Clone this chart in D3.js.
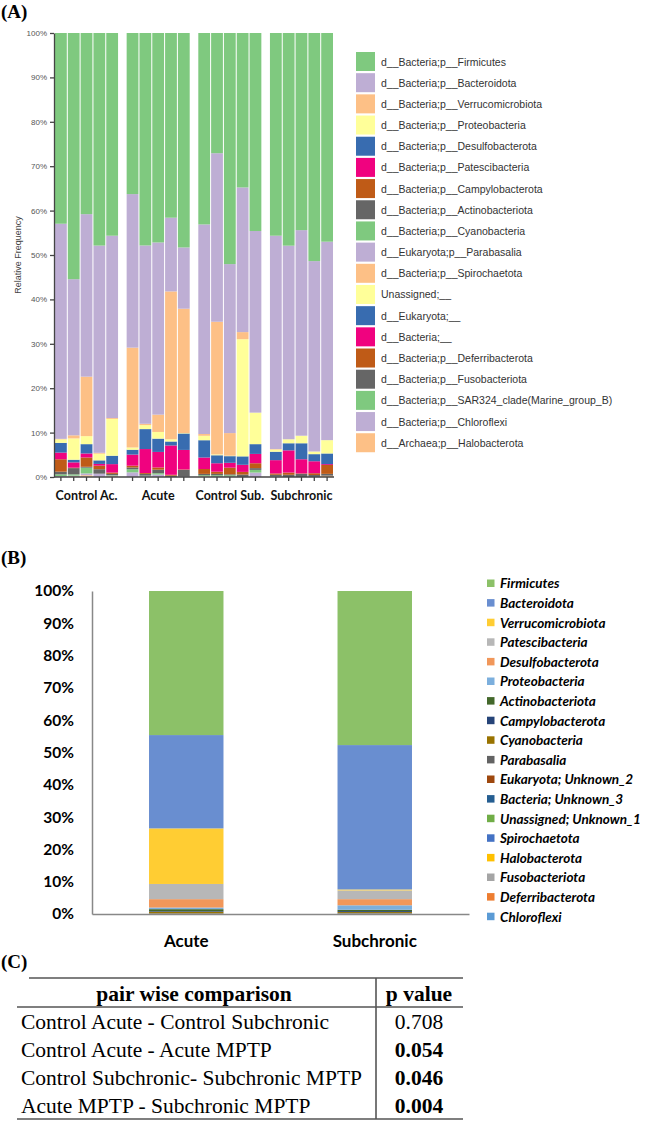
<!DOCTYPE html>
<meta charset="utf-8">

<body>
  <style>
    body {
      margin: 0;
      background: #fff;
    }

    svg {
      display: block;
    }

    .axisA text {
      font-family: "Liberation Sans", Arial, sans-serif;
      font-size: 8px;
      fill: #555;
    }

    .axisA path,
    .axisA line {
      stroke: #444;
      stroke-width: 1.3;
    }

    .axisB text {
      font-family: Lato, sans-serif;
      font-weight: bold;
      fill: #000;
    }

    .axisB path {
      stroke: #888;
      stroke-width: 1.5;
    }
  </style>
  <div id="box">
  </div>
  <script src="https://d3js.org/d3.v7.min.js"></script>
  <script>
    // ---------- panel A : relative frequency per sample ----------
    var groupsA = ["Control Ac.", "Acute", "Control Sub.", "Subchronic"];
    var samplesA = ["CA1", "CA2", "CA3", "CA4", "CA5",
      "A1", "A2", "A3", "A4", "A5",
      "CS1", "CS2", "CS3", "CS4", "CS5",
      "S1", "S2", "S3", "S4", "S5"
    ];
    var taxaA = ["d__Bacteria;p__Firmicutes", "d__Bacteria;p__Bacteroidota", "d__Bacteria;p__Verrucomicrobiota",
      "d__Bacteria;p__Proteobacteria", "d__Bacteria;p__Desulfobacterota", "d__Bacteria;p__Patescibacteria",
      "d__Bacteria;p__Campylobacterota", "d__Bacteria;p__Actinobacteriota", "d__Bacteria;p__Cyanobacteria",
      "d__Eukaryota;p__Parabasalia", "d__Bacteria;p__Spirochaetota", "Unassigned;__", "d__Eukaryota;__",
      "d__Bacteria;__", "d__Bacteria;p__Deferribacterota", "d__Bacteria;p__Fusobacteriota",
      "d__Bacteria;p__SAR324_clade(Marine_group_B)", "d__Bacteria;p__Chloroflexi", "d__Archaea;p__Halobacterota"
    ];

    var firmicutes = [43.0, 55.5, 40.8, 47.9, 45.7, 36.3, 47.9, 47.2, 41.6, 48.3, 43.2, 27.1, 52.1, 34.8, 44.6, 45.7, 47.9, 44.4, 51.4, 47.0];
    var bacteroidota = [48.5, 35.2, 36.6, 46.7, 41.1, 34.6, 40.2, 38.8, 16.6, 13.8, 47.3, 38.0, 38.1, 32.6, 40.9, 48.1, 43.6, 46.3, 42.9, 44.7];
    var verrucomicrobiota = [0.1, 0.7, 13.4, 0.2, 0.2, 22.5, 0.3, 3.9, 33.3, 28.0, 0.4, 29.9, 5.1, 1.6, 0.0, 0.1, 0.0, 0.0, 0.0, 0.0];
    var proteobacteria = [0.8, 4.8, 1.8, 1.5, 8.3, 0.5, 0.9, 1.5, 0.5, 0.1, 1.0, 0.2, 0.1, 26.4, 7.1, 0.5, 0.9, 1.7, 0.6, 3.0];
    var desulfobacterota = [2.2, 0.6, 2.1, 0.8, 1.9, 1.1, 4.5, 3.0, 0.9, 3.7, 3.9, 1.8, 1.5, 1.9, 2.2, 1.9, 1.6, 3.6, 1.6, 2.4];
    var patescibacteria = [1.5, 1.2, 0.9, 0.4, 1.9, 2.5, 5.4, 3.5, 6.6, 4.4, 2.6, 1.9, 1.1, 1.6, 2.1, 3.0, 5.0, 3.2, 2.7, 0.2];
    var campylobacterota = [2.8, 0.1, 2.1, 0.8, 0.3, 0.4, 0.2, 0.5, 0.2, 0.1, 1.1, 0.5, 1.5, 0.6, 1.1, 0.3, 0.5, 0.1, 0.4, 2.0];
    var actinobacteriota = [0.6, 1.4, 0.2, 1.0, 0.3, 0.4, 0.4, 0.8, 0.3, 1.5, 0.3, 0.3, 0.2, 0.5, 0.4, 0.3, 0.5, 0.7, 0.4, 0.4];
    var cyanobacteria = [0.4, 0.3, 1.3, 0.0, 0.1, 0.7, 0.1, 0.3, 0.0, 0.0, 0.2, 0.3, 0.3, 0.0, 0.6, 0.1, 0.0, 0.0, 0.0, 0.0];
    var parabasalia = [0.1, 0.1, 0.4, 0.7, 0.1, 1.0, 0.1, 0.5, 0.0, 0.1, 0.0, 0.0, 0.0, 0.0, 1.0, 0.0, 0.0, 0.0, 0.0, 0.0];
    var spirochaetota = [0.0, 0.1, 0.3, 0.0, 0.1, 0.0, 0.0, 0.0, 0.0, 0.0, 0.0, 0.0, 0.0, 0.0, 0.0, 0.0, 0.0, 0.0, 0.0, 0.3];
    var unassigned = [0.0, 0.0, 0.1, 0.0, 0.0, 0.0, 0.0, 0.0, 0.0, 0.0, 0.1, 0.0, 0.0, 0.0, 0.0, 0.0, 0.0, 0.0, 0.0, 0.0];
    var eukaryotaNA = [0.05, 0.05, 0.0, 0.0, 0.05, 0.0, 0.05, 0.05, 0.0, 0.0, 0.05, 0.05, 0.0, 0.0, 0.0, 0.05, 0.0, 0.0, 0.05, 0.0];
    var bacteriaNA = [0.05, 0.05, 0.0, 0.05, 0.0, 0.0, 0.05, 0.0, 0.0, 0.0, 0.05, 0.05, 0.05, 0.0, 0.0, 0.05, 0.0, 0.0, 0.0, 0.0];
    var deferribacterota = [0.0, 0.0, 0.0, 0.0, 0.05, 0.0, 0.0, 0.0, 0.0, 0.0, 0.0, 0.0, 0.0, 0.0, 0.0, 0.0, 0.0, 0.0, 0.0, 0.0];
    var fusobacteriota = [0.0, 0.0, 0.0, 0.0, 0.0, 0.0, 0.0, 0.0, 0.0, 0.0, 0.0, 0.0, 0.0, 0.05, 0.0, 0.0, 0.0, 0.0, 0.0, 0.0];
    var sar324 = [0.0, 0.0, 0.0, 0.0, 0.0, 0.0, 0.0, 0.0, 0.0, 0.0, 0.0, 0.0, 0.05, 0.0, 0.0, 0.0, 0.0, 0.0, 0.0, 0.0];
    var chloroflexi = [0.0, 0.0, 0.0, 0.0, 0.0, 0.05, 0.0, 0.0, 0.0, 0.0, 0.0, 0.0, 0.0, 0.0, 0.0, 0.0, 0.0, 0.0, 0.0, 0.0];
    var halobacterota = [0.0, 0.0, 0.0, 0.0, 0.0, 0.0, 0.0, 0.0, 0.0, 0.0, 0.0, 0.0, 0.0, 0.0, 0.0, 0.0, 0.0, 0.0, 0.0, 0.0];

    var seriesA = [firmicutes, bacteroidota, verrucomicrobiota, proteobacteria, desulfobacterota, patescibacteria,
      campylobacterota, actinobacteriota, cyanobacteria, parabasalia, spirochaetota, unassigned, eukaryotaNA,
      bacteriaNA, deferribacterota, fusobacteriota, sar324, chloroflexi, halobacterota
    ];

    // ---------- panel B : group means ----------
    var groupsB = ["Acute", "Subchronic"];
    var taxaB = ["Firmicutes", "Bacteroidota", "Verrucomicrobiota", "Patescibacteria", "Desulfobacterota",
      "Proteobacteria", "Actinobacteriota", "Campylobacterota", "Cyanobacteria", "Parabasalia",
      "Eukaryota; Unknown_2", "Bacteria; Unknown_3", "Unassigned; Unknown_1", "Spirochaetota",
      "Halobacterota", "Fusobacteriota", "Deferribacterota", "Chloroflexi"
    ];
    var colorsB = ["#8cc168", "#698ed0", "#ffcd33", "#b7b7b7", "#f1975a", "#7cafdd", "#43682b", "#264478",
      "#997300", "#636363", "#9e480e", "#255e91", "#70ad47", "#4472c4", "#ffc000", "#a5a5a5", "#ed7d31", "#5b9bd5"
    ];
    var acuteB = [44.6, 28.9, 17.2, 4.7, 2.6, 0.5, 0.6, 0.2, 0.5, 0.1, 0.03, 0.03, 0.02, 0.02, 0.0, 0.0, 0.0, 0.0];
    var subchronicB = [47.7, 44.7, 0.3, 2.7, 1.9, 1.4, 0.4, 0.3, 0.3, 0.1, 0.05, 0.05, 0.03, 0.03, 0.02, 0.01, 0.01, 0.0];

    // ---------- panel C : table ----------
    var comparisons = ["Control Acute - Control Subchronic", "Control Acute - Acute MPTP",
      "Control Subchronic- Subchronic MPTP", "Acute MPTP - Subchronic MPTP"
    ];
    var pValues = ["0.708", "0.054", "0.046", "0.004"];
    var pBold = [false, true, true, true];

    var svg = d3.select("#box")
      .append("svg")
      .attr("width", 649)
      .attr("height", 1121);

    function panelLabel(txt, x, y) {
      svg.append("text")
        .attr("x", x)
        .attr("y", y)
        .style("font-family", "'Liberation Serif', 'Times New Roman', serif")
        .style("font-weight", "bold")
        .style("font-size", "19px")
        .text(txt);
    }

    // ================= panel A =================
    panelLabel("(A)", 1, 18);

    var yA = d3.scaleLinear().domain([0, 1]).range([477, 33]);
    var xGroupA = d3.scaleBand().domain(groupsA).range([55, 333]).paddingInner(0.12);
    var xSampleA = d3.scaleBand().domain(d3.range(5)).range([0, xGroupA.bandwidth()]).paddingInner(0.08);
    var colorA = d3.scaleOrdinal().domain(taxaA).range(d3.schemeAccent);

    var rowsA = samplesA.map(function(s, i) {
      var row = {
        sample: s,
        group: groupsA[Math.floor(i / 5)],
        idx: i % 5
      };
      taxaA.forEach(function(t, k) {
        row[t] = seriesA[k][i];
      });
      return row;
    });

    function xA(d) {
      return xGroupA(d.group) + xSampleA(d.idx);
    }

    var stackA = d3.stack()
      .keys(taxaA.slice().reverse())
      .offset(d3.stackOffsetExpand)(rowsA);

    svg.append("g").selectAll("g")
      .data(stackA)
      .enter().append("g")
      .attr("fill", function(d) {
        return colorA(d.key)
      })
      .selectAll("rect")
      .data(function(d) {
        return d
      })
      .enter().append("rect")
      .attr("x", function(d) {
        return xA(d.data)
      })
      .attr("y", function(d) {
        return yA(d[1])
      })
      .attr("width", xSampleA.bandwidth())
      .attr("height", function(d) {
        return Math.max(0, yA(d[0]) - yA(d[1]))
      });

    svg.append("g")
      .attr("class", "axisA")
      .attr("transform", "translate(54,0)")
      .call(d3.axisLeft(yA).ticks(10).tickFormat(d3.format(".0%")).tickSize(4).tickSizeOuter(0));

    // x axis of panel A (nested bands, so drawn by hand from the scales)
    var xAxisA = svg.append("g").attr("class", "axisA");
    xAxisA.append("line")
      .attr("x1", 54).attr("x2", xGroupA.range()[1] + 1)
      .attr("y1", yA(0)).attr("y2", yA(0));
    xAxisA.selectAll(".tk")
      .data(rowsA)
      .enter().append("line")
      .attr("x1", function(d) {
        return xA(d) + xSampleA.bandwidth() / 2
      })
      .attr("x2", function(d) {
        return xA(d) + xSampleA.bandwidth() / 2
      })
      .attr("y1", yA(0)).attr("y2", yA(0) + 4);

    svg.append("g").selectAll("text")
      .data(groupsA)
      .enter().append("text")
      .attr("x", function(d) {
        return xGroupA(d) + xGroupA.bandwidth() / 2
      })
      .attr("y", 500)
      .attr("text-anchor", "middle")
      .style("font-family", "Lato, sans-serif")
      .style("font-weight", "bold")
      .style("font-size", "12.5px")
      .style("fill", "#111")
      .text(function(d) {
        return d
      });

    svg.append("text")
      .attr("transform", "translate(21,255) rotate(-90)")
      .attr("text-anchor", "middle")
      .style("font-family", "'Liberation Sans', Arial, sans-serif")
      .style("font-size", "9px")
      .style("fill", "#444")
      .text("Relative Frequency");

    var legA = svg.append("g").selectAll("g")
      .data(taxaA)
      .enter().append("g")
      .attr("transform", function(d, i) {
        return "translate(356," + (52 + i * 21.18) + ")"
      });
    legA.append("rect")
      .attr("width", 19).attr("height", 19)
      .attr("fill", function(d) {
        return colorA(d)
      });
    legA.append("text")
      .attr("x", 25).attr("y", 13.5)
      .style("font-family", "'Liberation Sans', Arial, sans-serif")
      .style("font-size", "10.5px")
      .style("fill", "#333")
      .text(function(d) {
        return d
      });

    // ================= panel B =================
    panelLabel("(B)", 1, 564);

    var yB = d3.scaleLinear().domain([0, 1]).range([914, 591]);
    var xB = d3.scaleBand().domain(groupsB).range([92, 469]).paddingInner(0.605).paddingOuter(0.3025);
    var colorB = d3.scaleOrdinal().domain(taxaB).range(colorsB);

    var rowsB = groupsB.map(function(g, i) {
      var vals = i == 0 ? acuteB : subchronicB;
      var row = {
        group: g
      };
      taxaB.forEach(function(t, k) {
        row[t] = vals[k];
      });
      return row;
    });

    var stackB = d3.stack()
      .keys(taxaB.slice().reverse())
      .offset(d3.stackOffsetExpand)(rowsB);

    svg.append("g").selectAll("g")
      .data(stackB)
      .enter().append("g")
      .attr("fill", function(d) {
        return colorB(d.key)
      })
      .selectAll("rect")
      .data(function(d) {
        return d
      })
      .enter().append("rect")
      .attr("x", function(d) {
        return xB(d.data.group)
      })
      .attr("y", function(d) {
        return yB(d[1])
      })
      .attr("width", xB.bandwidth())
      .attr("height", function(d) {
        return Math.max(0, yB(d[0]) - yB(d[1]))
      });

    svg.append("g")
      .attr("class", "axisB")
      .attr("transform", "translate(92,0)")
      .call(d3.axisLeft(yB).ticks(10).tickFormat(d3.format(".0%")).tickSize(0).tickPadding(18))
      .selectAll("text").style("font-size", "15.5px");

    svg.append("g")
      .attr("class", "axisB")
      .attr("transform", "translate(0,914)")
      .call(d3.axisBottom(xB).tickSize(0).tickPadding(21).tickSizeOuter(0))
      .selectAll("text").style("font-size", "17px");

    var legB = svg.append("g").selectAll("g")
      .data(taxaB)
      .enter().append("g")
      .attr("transform", function(d, i) {
        return "translate(487," + (583.3 + i * 19.6) + ")"
      });
    legB.append("rect")
      .attr("y", -3.8)
      .attr("width", 7.5).attr("height", 7.5)
      .attr("fill", function(d) {
        return colorB(d)
      });
    legB.append("text")
      .attr("x", 13).attr("y", 5)
      .style("font-family", "Lato, sans-serif")
      .style("font-weight", "bold")
      .style("font-style", "italic")
      .style("font-size", "13.5px")
      .text(function(d) {
        return d
      });

    // ================= panel C =================
    panelLabel("(C)", 1, 968);

    var tbl = svg.append("g")
      .style("font-family", "'Liberation Serif', 'Times New Roman', serif");
    var lineStyle = function(sel) {
      sel.attr("stroke", "#555").attr("stroke-width", 1.6);
    };
    tbl.append("line").attr("x1", 29).attr("x2", 463).attr("y1", 978).attr("y2", 978).call(lineStyle);
    tbl.append("line").attr("x1", 17).attr("x2", 463).attr("y1", 1007).attr("y2", 1007).call(lineStyle);
    tbl.append("line").attr("x1", 17).attr("x2", 463).attr("y1", 1119).attr("y2", 1119).call(lineStyle);
    tbl.append("line").attr("x1", 376).attr("x2", 376).attr("y1", 978).attr("y2", 1119).call(lineStyle);

    tbl.append("text")
      .attr("x", 194).attr("y", 1001)
      .attr("text-anchor", "middle")
      .style("font-weight", "bold").style("font-size", "21.5px")
      .text("pair wise comparison");
    tbl.append("text")
      .attr("x", 419).attr("y", 1001)
      .attr("text-anchor", "middle")
      .style("font-weight", "bold").style("font-size", "21.5px")
      .text("p value");

    var rowY = d3.scaleBand().domain(d3.range(comparisons.length)).range([1008, 1120]);
    tbl.selectAll(".cmp")
      .data(comparisons)
      .enter().append("text")
      .attr("x", 21)
      .attr("y", function(d, i) {
        return rowY(i) + 21
      })
      .style("font-size", "21.5px")
      .text(function(d) {
        return d
      });
    tbl.selectAll(".pv")
      .data(pValues)
      .enter().append("text")
      .attr("x", 419)
      .attr("y", function(d, i) {
        return rowY(i) + 21
      })
      .attr("text-anchor", "middle")
      .style("font-size", "21.5px")
      .style("font-weight", function(d, i) {
        return pBold[i] ? "bold" : "normal"
      })
      .text(function(d) {
        return d
      });
  </script>
